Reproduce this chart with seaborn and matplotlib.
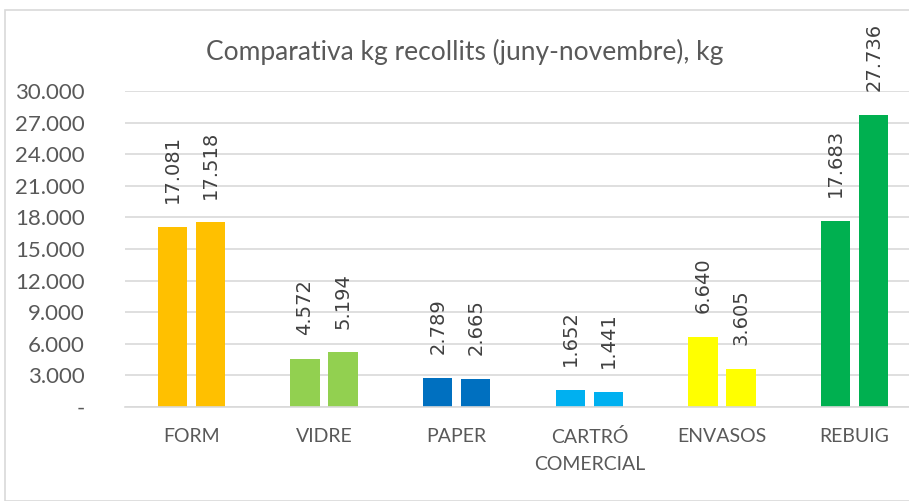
import numpy as np
import pandas as pd
import matplotlib
matplotlib.use("Agg")
import matplotlib.pyplot as plt
import seaborn as sns
from matplotlib.patches import Rectangle

CATEGORIES = ["FORM", "VIDRE", "PAPER", "CARTRÓ\nCOMERCIAL", "ENVASOS", "REBUIG"]
SERIE_1 = [17081, 4572, 2789, 1652, 6640, 17683]
SERIE_2 = [17518, 5194, 2665, 1441, 3605, 27736]
SERIES = ["Període 1", "Període 2"]
COLORS = ["#FFC000", "#92D050", "#0070C0", "#00B0F0", "#FFFF00", "#00B050"]
YTICKS = list(range(0, 30001, 3000))
TITLE = "Comparativa kg recollits (juny-novembre), kg"

TEXT = "#595959"


def fmt(v):
    if v == 0:
        return "-"
    return f"{int(v):,}".replace(",", ".")


def main():
    sns.set_style("white")
    plt.rcParams["font.family"] = ["Lato", "DejaVu Sans"]

    df = pd.DataFrame({
        "cat": CATEGORIES * 2,
        "serie": [SERIES[0]] * len(CATEGORIES) + [SERIES[1]] * len(CATEGORIES),
        "kg": SERIE_1 + SERIE_2,
    })

    fig = plt.figure(figsize=(9.09, 5.01), dpi=100)
    fig.add_artist(Rectangle((5 / 909, 0.0), 1.0, 1 - 10 / 501, transform=fig.transFigure,
                             fill=False, edgecolor="#D9D9D9", linewidth=1.2))
    ax = fig.add_axes([125 / 909, 94 / 501, 796 / 909, 316 / 501])

    sns.barplot(data=df, x="cat", y="kg", hue="serie", ax=ax, order=CATEGORIES,
                width=0.573, gap=0.23, legend=False, errorbar=None, palette=["#888", "#888"])

    n = len(CATEGORIES)
    for i, bar in enumerate(ax.patches[:2 * n]):
        bar.set_facecolor(COLORS[i % n])
        bar.set_edgecolor("none")

    for cont in ax.containers:
        ax.bar_label(cont, labels=[fmt(v) for v in cont.datavalues], rotation=90,
                     padding=17, fontsize=14, color="#404040", family="DejaVu Sans")

    ax.set_ylim(0, 30000)
    ax.set_yticks(YTICKS)
    ax.set_yticklabels([fmt(v) for v in YTICKS])
    ax.yaxis.grid(True, color="#D9D9D9", linewidth=1.2)
    ax.set_axisbelow(True)
    for s in ["top", "right", "left"]:
        ax.spines[s].set_visible(False)
    ax.spines["bottom"].set_color("#D9D9D9")
    ax.spines["bottom"].set_linewidth(1.2)
    ax.tick_params(axis="y", length=0, pad=29, labelsize=16, labelcolor=TEXT)
    ax.tick_params(axis="x", length=0, pad=15, labelsize=14, labelcolor=TEXT)
    for lbl in ax.get_yticklabels():
        lbl.set_horizontalalignment("right")
    for lbl in ax.get_xticklabels():
        lbl.set_linespacing(1.75)
    ax.set_xlabel("")
    ax.set_ylabel("")

    fig.text(465 / 909, 1 - 52 / 501, TITLE, ha="center", va="center",
             fontsize=19, color=TEXT)

    fig.savefig("out.png", dpi=100)
    plt.close(fig)


if __name__ == "__main__":
    main()
